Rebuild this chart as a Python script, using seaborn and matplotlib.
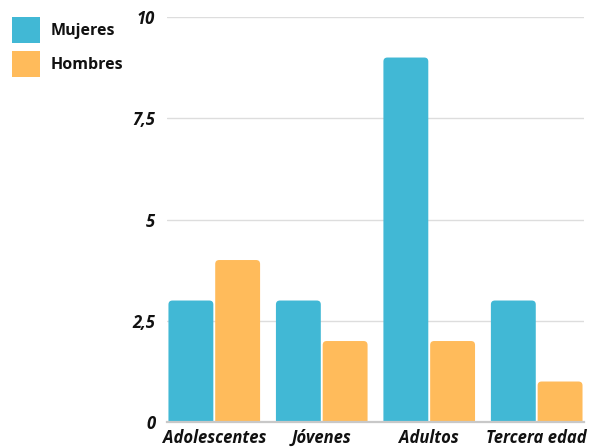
import matplotlib
matplotlib.use("Agg")
import matplotlib.pyplot as plt
import seaborn as sns
import pandas as pd
from matplotlib.patches import FancyBboxPatch, Patch

categories = ["Adolescentes", "Jóvenes", "Adultos", "Tercera edad"]
mujeres = [3, 3, 9, 3]
hombres = [4, 2, 2, 1]
series_names = ["Mujeres", "Hombres"]
colors = ["#41B8D5", "#FFBB5B"]
y_ticks = [0, 2.5, 5, 7.5, 10]
y_tick_labels = ["0", "2,5", "5", "7,5", "10"]

df = pd.DataFrame({
    "grupo": categories * 2,
    "valor": mujeres + hombres,
    "sexo": [series_names[0]] * len(categories) + [series_names[1]] * len(categories),
})

sns.set_theme(style="white")
plt.rcParams["font.family"] = ["Open Sans", "DejaVu Sans"]

fig = plt.figure(figsize=(5.89, 4.48), dpi=100)
ax = fig.add_axes([0.2835, 0.058, 0.708, 0.904])

sns.barplot(data=df, x="grupo", y="valor", hue="sexo", palette=colors,
            width=0.87, gap=0.04, ax=ax, legend=False, saturation=1)

ax.set_xlim(-0.44, 3.44)
ax.set_ylim(0, 10)

# rounded tops for the bars
fig.canvas.draw()
bbox = ax.get_window_extent()
x_per_px = (3.88) / bbox.width
y_per_px = 10 / bbox.height
aspect = y_per_px / x_per_px
for p in list(ax.patches):
    x0, w, h = p.get_x(), p.get_width(), p.get_height()
    fc = p.get_facecolor()
    p.remove()
    r = 4 * x_per_px
    fb = FancyBboxPatch((x0, -0.3), w, h + 0.3,
                        boxstyle=f"round,pad=0,rounding_size={r}",
                        mutation_aspect=aspect, facecolor=fc,
                        edgecolor="none", zorder=2, clip_on=True)
    ax.add_patch(fb)

ax.set_yticks(y_ticks)
ax.set_yticklabels(y_tick_labels)
ax.yaxis.grid(True, color="#DDDDDD", linewidth=1.0, zorder=0)
ax.set_axisbelow(True)
for s in ["top", "right", "left"]:
    ax.spines[s].set_visible(False)
ax.spines["bottom"].set_color("#C8C8C8")
ax.spines["bottom"].set_linewidth(1.6)
ax.spines["bottom"].set_zorder(3)
ax.set_xlabel("")
ax.set_ylabel("")
ax.tick_params(axis="y", length=0, pad=8.5)
ax.tick_params(axis="x", length=0, pad=5)
for lab in ax.get_xticklabels() + ax.get_yticklabels():
    lab.set_fontweight("bold")
    lab.set_fontstyle("italic")
    lab.set_fontsize(12)
    lab.set_color("#111111")

handles = [Patch(facecolor=c, edgecolor="none") for c in colors]
leg = fig.legend(handles, series_names, loc="upper left",
                 bbox_to_anchor=(0.009, 0.9765), frameon=False,
                 handlelength=1.8, handleheight=2.15, labelspacing=0.5,
                 handletextpad=0.65, borderaxespad=0,
                 prop={"weight": "bold", "size": 11.5})
for t in leg.get_texts():
    t.set_color("#111111")

fig.savefig("out.png", dpi=100)
